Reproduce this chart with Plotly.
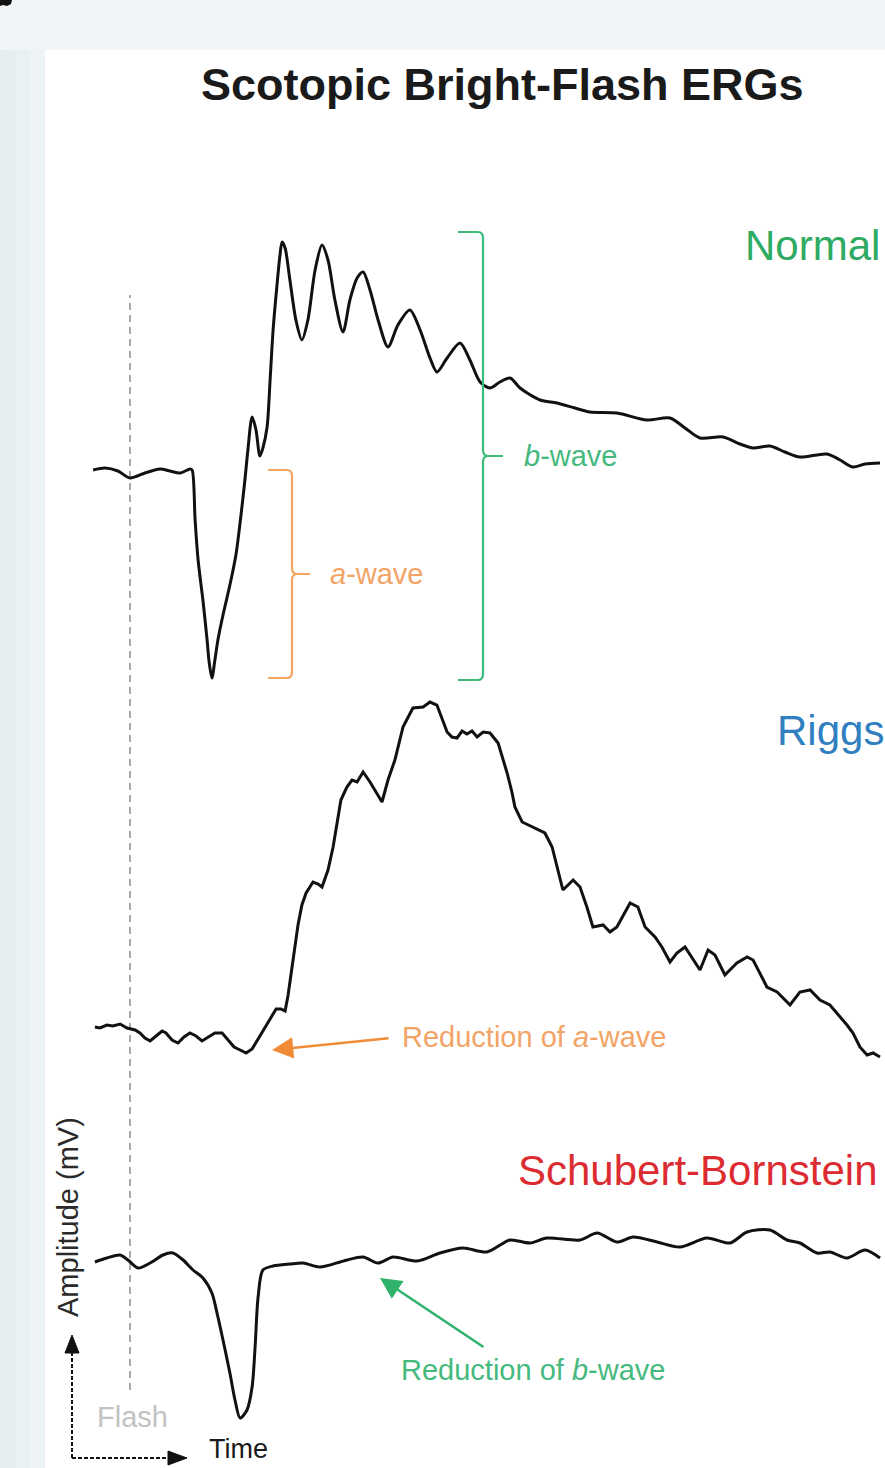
import plotly.graph_objects as go

W, H = 885, 1468

# ---------------- data: time (ms after flash) and amplitude (µV re: baseline) -------------
normal_t = [-12.3, -8.3, -4.0, 0.0, 5.0, 10.0, 13.3, 16.7, 20.0, 20.7, 21.7, 22.7, 24.3, 25.7,
            26.3, 27.3, 28.3, 29.3, 31.0, 33.3, 35.3, 37.0, 38.3, 39.3, 40.7, 42.0, 43.3, 44.3,
            45.7, 46.7, 47.7, 49.0, 50.0, 50.7, 51.7, 53.3, 55.3, 57.3, 59.3, 61.7, 64.0, 66.0,
            68.3, 71.0, 73.3, 75.7, 77.7, 80.0, 82.7, 86.0, 89.3, 93.3, 96.7, 100.0, 102.3,
            105.7, 110.0, 113.3, 116.7, 120.0, 123.3, 126.7, 130.0, 136.7, 142.3, 148.3, 153.3,
            162.3, 172.3, 180.0, 185.0, 190.0, 197.7, 203.3, 207.7, 213.3, 218.3, 223.3, 232.3,
            236.7, 241.0, 245.0, 250.0]
normal_uv = [0, 2, -1, -8, -3, 1, -1, -3, 1, 0, -50, -90, -130, -170,
             -190, -208, -190, -170, -145, -115, -85, -45, -10, 20, 53, 40, 14, 22,
             43, 90, 140, 185, 215, 228, 222, 190, 150, 130, 150, 200, 225, 210,
             170, 138, 170, 192, 198, 180, 150, 123, 145, 160, 140, 112, 98,
             112, 127, 110, 88, 82, 88, 92, 82, 70, 67, 62, 58,
             57, 50, 52, 42, 32, 33, 26, 22, 24, 18, 13, 16,
             10, 3, 6, 7]

riggs_t = [-11.7, -10.0, -7.7, -5.7, -3.3, -1.0, 1.7, 3.3, 5.0, 6.7, 8.7, 10.7, 12.0, 14.0,
           16.0, 18.0, 20.0, 22.0, 24.0, 26.0, 28.3, 30.7, 32.7, 34.7, 36.7, 38.7, 40.7, 42.7,
           44.7, 46.7, 48.7, 50.3, 51.7, 52.7, 53.7, 54.7, 56.0, 57.3, 58.7, 61.0, 62.7, 64.0,
           66.0, 67.7, 69.0, 70.3, 72.3, 74.0, 75.7, 77.7, 80.0, 82.3, 84.0, 86.0, 88.3, 91.0,
           94.3, 97.7, 100.0, 102.3, 104.0, 105.7, 107.3, 109.0, 110.7, 112.3, 114.0, 115.7,
           117.7, 120.0, 122.7, 124.3, 125.7, 127.3, 128.3, 130.7, 134.3, 138.3, 140.7, 142.3,
           144.3, 147.7, 150.0, 152.3, 154.3, 157.7, 160.0, 162.3, 164.0, 166.7, 169.3, 171.7,
           175.0, 177.3, 180.0, 182.3, 185.0, 187.3, 190.0, 192.7, 195.0, 198.3, 202.3, 205.7,
           207.7, 212.3, 215.7, 220.0, 223.3, 226.7, 230.0, 233.3, 235.7, 239.0, 241.0, 243.3,
           245.7, 247.7, 250.0]
riggs_uv = [0, -1, 2, 1, 3, -1, -3, -6, -11, -14, -9, -4, -6, -13,
            -16, -10, -6, -9, -14, -10, -6, -6, -13, -20, -23, -26, -22, -12,
            -2, 9, 18, 18, 16, 32, 52, 74, 102, 122, 134, 145, 143, 140,
            157, 180, 205, 227, 240, 247, 245, 255, 245, 234, 225, 247, 267, 300,
            319, 320, 325, 322, 309, 295, 290, 289, 296, 293, 296, 290,
            295, 294, 284, 269, 254, 235, 220, 205, 200, 194, 180, 160,
            137, 147, 140, 120, 100, 102, 95, 100, 109, 124, 120, 100,
            90, 80, 65, 74, 80, 70, 57, 77, 72, 52, 64, 70,
            67, 40, 35, 22, 35, 37, 27, 22, 14, 2, -6, -20,
            -28, -26, -30]

sb_t = [-11.7, -7.7, -3.3, -0.7, 2.7, 6.7, 11.0, 14.3, 17.7, 21.0, 24.3, 27.3, 29.0, 31.0,
        33.3, 35.0, 36.7, 39.0, 40.7, 41.7, 42.7, 44.3, 47.7, 53.3, 57.7, 63.3, 70.0, 72.3,
        77.7, 82.7, 87.7, 95.7, 103.3, 111.0, 119.0, 126.7, 133.3, 139.0, 150.0, 155.7,
        162.3, 167.7, 175.7, 183.3, 192.3, 200.0, 205.7, 213.3, 219.0, 223.3, 229.0, 233.3,
        239.0, 245.0, 250.0]
sb_uv = [1, 5, 8, 3, -5, 0, 8, 10, 3, -7, -15, -30, -50, -77,
         -110, -137, -155, -147, -124, -84, -34, -7, -3, -1, 0, -4, 1, 3,
         6, 0, 6, 2, 10, 15, 11, 23, 20, 25, 23, 30,
         21, 26, 21, 16, 25, 20, 31, 33, 23, 20, 10, 11,
         5, 13, 5]

labels = ["Normal", "Riggs", "Schubert-Bornstein"]
label_colors = ["#2eaa62", "#2f7fc1", "#dc2b31"]
title_text = "<b>Scotopic Bright-Flash ERGs</b>"

# ---------------- layout helpers (pixel -> paper) ----------------
def px(x):
    return x / W

def py(y):
    return 1 - y / H

FLASH_PX = 130.0
PX_PER_MS = 3.0
x_range = [(0 - FLASH_PX) / PX_PER_MS, (W - FLASH_PX) / PX_PER_MS]

# panel placement: (baseline pixel, top pixel, bottom pixel); 1 px = 1 µV
panels = [(470, 150, 690), (1027, 690, 1090), (1263, 1090, 1440)]

fig = go.Figure()
series = [(normal_t, normal_uv, "spline"), (riggs_t, riggs_uv, "linear"), (sb_t, sb_uv, "spline")]
for i, (t, v, shp) in enumerate(series):
    fig.add_trace(go.Scatter(
        x=t, y=v, mode="lines", xaxis="x", yaxis="y" if i == 0 else f"y{i+1}",
        line=dict(color="#111111", width=3, shape=shp, smoothing=0.8 if shp == "spline" else None),
        hoverinfo="skip", showlegend=False))

layout_axes = {}
for i, (base, top, bot) in enumerate(panels):
    name = "yaxis" if i == 0 else f"yaxis{i+1}"
    layout_axes[name] = dict(domain=[py(bot), py(top)], range=[base - bot, base - top],
                             visible=False, anchor="x", fixedrange=True)

FONT = "Liberation Sans, Arial, Helvetica, sans-serif"
shapes = []
annotations = []

# background panels
shapes.append(dict(type="rect", xref="paper", yref="paper", x0=px(0), x1=px(15), y0=py(H), y1=py(50),
                   fillcolor="#e6eef2", line=dict(width=0), layer="below"))
shapes.append(dict(type="rect", xref="paper", yref="paper", x0=px(15), x1=px(30), y0=py(H), y1=py(50),
                   fillcolor="#eaf1f4", line=dict(width=0), layer="below"))
shapes.append(dict(type="rect", xref="paper", yref="paper", x0=px(30), x1=px(45), y0=py(H), y1=py(50),
                   fillcolor="#eef4f6", line=dict(width=0), layer="below"))
shapes.append(dict(type="rect", xref="paper", yref="paper", x0=px(45), x1=px(W + 5), y0=py(H + 5), y1=py(50),
                   fillcolor="#ffffff", line=dict(width=0), layer="below"))
# cropped fragment of a panel letter at the very top-left corner
shapes.append(dict(type="path", xref="paper", yref="paper",
                   path=f"M {px(0)},{py(0)} L {px(12)},{py(0)} L {px(11)},{py(4)} L {px(7)},{py(6)} "
                        f"L {px(3)},{py(5)} L {px(0)},{py(6)} Z",
                   fillcolor="#111111", line=dict(width=0)))

# flash line
shapes.append(dict(type="line", xref="x", yref="paper", x0=0, x1=0, y0=py(1390), y1=py(295),
                   line=dict(color="#a9a9a9", width=2, dash="7px,5px"), layer="below"))

# brackets (data coordinates of the Normal panel)
def bracket(xl, xv, xn, top, bot, mid, color):
    rx, ry = 5 / PX_PER_MS, 6
    path = (f"M {xl},{top} L {xv - rx},{top} Q {xv},{top} {xv},{top - ry} "
            f"L {xv},{mid + ry} Q {xv},{mid} {xv + rx},{mid} L {xn},{mid} "
            f"M {xv + rx},{mid} Q {xv},{mid} {xv},{mid - ry} "
            f"L {xv},{bot + ry} Q {xv},{bot} {xv - rx},{bot} L {xl},{bot}")
    return dict(type="path", xref="x", yref="y", path=path, line=dict(color=color, width=2.2))

def t_of(xpix):
    return (xpix - FLASH_PX) / PX_PER_MS

a_top, a_bot = 0, min(normal_uv)
b_top, b_bot = max(normal_uv) + 10, min(normal_uv) - 2
ORANGE_BR = "#f3a45e"
GREEN_BR = "#3dbb7c"
shapes.append(bracket(t_of(268), t_of(292), t_of(310), a_top, a_bot, (a_top + a_bot) / 2, ORANGE_BR))
shapes.append(bracket(t_of(458), t_of(483), t_of(503), b_top, b_bot, (b_top + b_bot) / 2, GREEN_BR))

annotations.append(dict(xref="x", yref="y", x=t_of(328), y=(a_top + a_bot) / 2, text="<i>a</i>-wave",
                        showarrow=False, xanchor="left", yanchor="middle",
                        font=dict(family=FONT, size=29, color="#f2a466")))
annotations.append(dict(xref="x", yref="y", x=t_of(522), y=(b_top + b_bot) / 2, text="<i>b</i>-wave",
                        showarrow=False, xanchor="left", yanchor="middle",
                        font=dict(family=FONT, size=29, color="#45b97e")))

# title & labels
annotations.append(dict(xref="paper", yref="paper", x=px(502), y=py(85), text=title_text, showarrow=False,
                        xanchor="center", yanchor="middle", font=dict(family=FONT, size=45, color="#1a1a1a")))
label_pos = [(743, 245), (775, 730), (516, 1170)]
for lab, col, (lx, ly) in zip(labels, label_colors, label_pos):
    annotations.append(dict(xref="paper", yref="paper", x=px(lx), y=py(ly), text=lab, showarrow=False,
                            xanchor="left", yanchor="middle", font=dict(family=FONT, size=42, color=col)))

# reduction arrows
annotations.append(dict(xref="paper", yref="paper", x=px(272), y=py(1050), ax=118, ay=-12, text="",
                        showarrow=True, arrowhead=2, arrowsize=1.7, arrowwidth=2.5, arrowcolor="#f08c38"))
annotations.append(dict(xref="paper", yref="paper", x=px(400), y=py(1037), text="Reduction of <i>a</i>-wave",
                        showarrow=False, xanchor="left", yanchor="middle",
                        font=dict(family=FONT, size=29, color="#f2a466")))
annotations.append(dict(xref="paper", yref="paper", x=px(380), y=py(1278), ax=105, ay=70, text="",
                        showarrow=True, arrowhead=2, arrowsize=1.7, arrowwidth=2.5, arrowcolor="#2fb36b"))
annotations.append(dict(xref="paper", yref="paper", x=px(399), y=py(1370), text="Reduction of <i>b</i>-wave",
                        showarrow=False, xanchor="left", yanchor="middle",
                        font=dict(family=FONT, size=29, color="#45b97e")))

# axis key
shapes.append(dict(type="line", xref="paper", yref="paper", x0=px(72), x1=px(72), y0=py(1458), y1=py(1350),
                   line=dict(color="#111111", width=2, dash="4px,2px")))
shapes.append(dict(type="line", xref="paper", yref="paper", x0=px(72), x1=px(170), y0=py(1458), y1=py(1458),
                   line=dict(color="#111111", width=2, dash="4px,2px")))
shapes.append(dict(type="path", xref="paper", yref="paper",
                   path=f"M {px(72)},{py(1335)} L {px(65)},{py(1353)} L {px(79)},{py(1353)} Z",
                   fillcolor="#111111", line=dict(color="#111111", width=1)))
shapes.append(dict(type="path", xref="paper", yref="paper",
                   path=f"M {px(187)},{py(1458)} L {px(168)},{py(1451)} L {px(168)},{py(1465)} Z",
                   fillcolor="#111111", line=dict(color="#111111", width=1)))
annotations.append(dict(xref="paper", yref="paper", x=px(68), y=py(1217), text="Amplitude (mV)",
                        showarrow=False, textangle=-90, xanchor="center", yanchor="middle",
                        font=dict(family=FONT, size=29, color="#2a2a2a")))
annotations.append(dict(xref="paper", yref="paper", x=px(207), y=py(1449), text="Time",
                        showarrow=False, xanchor="left", yanchor="middle",
                        font=dict(family=FONT, size=27, color="#1a1a1a")))
annotations.append(dict(xref="x", yref="paper", x=t_of(95), y=py(1417), text="Flash",
                        showarrow=False, xanchor="left", yanchor="middle",
                        font=dict(family=FONT, size=29, color="#c2c2c2")))

fig.update_layout(
    width=W, height=H, autosize=False,
    margin=dict(l=0, r=0, t=0, b=0, pad=0),
    paper_bgcolor="#f1f5f7", plot_bgcolor="rgba(0,0,0,0)",
    xaxis=dict(range=x_range, visible=False, domain=[0, 1], fixedrange=True),
    shapes=shapes, annotations=annotations, showlegend=False,
    **layout_axes,
)

fig.write_html("out.html", config={"displayModeBar": False},
               post_script="document.body.style.margin='0px';document.body.style.overflow='hidden';")
